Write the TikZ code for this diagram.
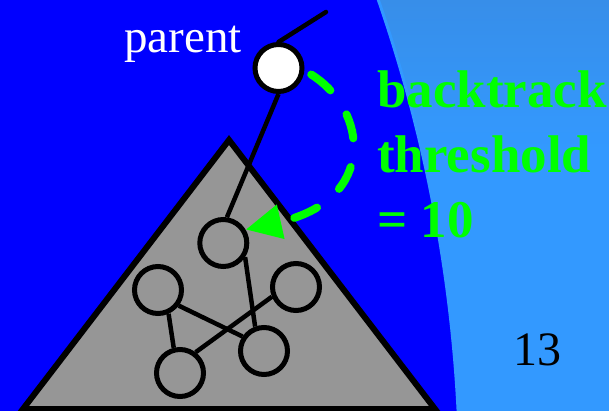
\documentclass[tikz,border=0pt]{standalone}
\usepackage{fontspec}
\setmainfont{Liberation Serif}
\usepackage{tikz}
\usetikzlibrary{arrows.meta}

\definecolor{sky}{RGB}{51,153,255}
\definecolor{skytop}{RGB}{55,142,233}
\definecolor{treegray}{RGB}{150,150,150}

\begin{document}
\begin{tikzpicture}[x=1pt, y=-1pt,
    vertex/.style={circle, draw, line width=5pt, minimum size=47pt, inner sep=0pt},
    edge/.style={line width=4.5pt},
    tri/.style={draw, fill=treegray, line width=6pt},
    lbl/.style={text=white, inner sep=0pt, font=\fontsize{47}{56}\selectfont},
    thresh/.style={text=green, inner sep=0pt, align=left, font=\bfseries\fontsize{53}{64.5}\selectfont},
    back/.style={green, line width=8pt, line cap=round, dash pattern=on 25pt off 29pt,
        -{Triangle[length=36pt, width=33pt]}}]

    \useasboundingbox (0,0) rectangle (609,411);
    % slide background
    \fill[sky] (0,0) rectangle (609,411);
    \fill[top color=skytop, bottom color=sky] (0,0) rectangle (609,150);
    \begin{scope}
        \clip (0,0) rectangle (609,411);
        \draw[sky, line width=3pt, fill=blue] (-1026,487) circle[radius=1486];
    \end{scope}

    % subtree
    \draw[tri] (229,140) -- (23,409) -- (435,409) -- cycle;

    \node[vertex, fill=white] (parent) at (278.5,68) {};
    \node[vertex] (root) at (223.3,243) {};
    \node[vertex] (kidl) at (158,290) {};
    \node[vertex] (kidr) at (296,287) {};
    \node[vertex] (leafl) at (180,373) {};
    \node[vertex] (leafr) at (264,351) {};
    \coordinate (up) at (326,12);

    \draw[edge, line cap=round] (parent.north) -- (up);
    \draw[edge] (parent.south) -- (root.82);
    \draw[edge] (root.-33) -- (leafr.110);
    \draw[edge] (kidl.-66) -- (leafl.104);
    \draw[edge] (kidl.-37) -- (leafr.146);
    \draw[edge] (kidr.202) -- (leafl.53);

    \draw[back, shorten <=8pt] (parent.-5) .. controls (368,110) and (378,200) .. (root.31);

    \node[lbl, anchor=base east] (plabel) at (242,53) {parent};
    \node[thresh, anchor=base west] (limit) at (377,237) {backtrack\\threshold\\= 10};
    \node[inner sep=0pt, anchor=base, font=\fontsize{48}{56}\selectfont] (page) at (537,365) {13};
\end{tikzpicture}
\end{document}
